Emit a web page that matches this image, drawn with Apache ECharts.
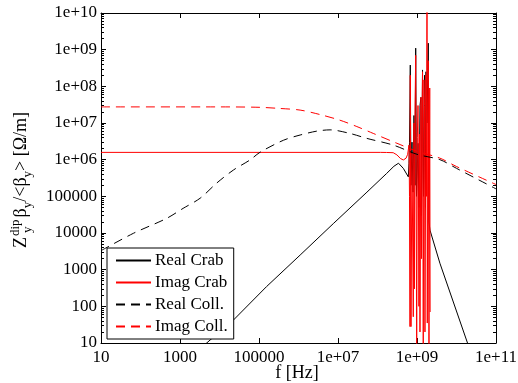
<!DOCTYPE html>
<html><head><meta charset="utf-8">
<script src="https://cdn.jsdelivr.net/npm/echarts@6/dist/echarts.min.js"></script>
<style>html,body{margin:0;padding:0;background:#fff}#c{width:518px;height:383px}</style>
</head><body><div id="c"></div>
<script>
// ---- data ----
const xTickLabels = ['10', '1000', '100000', '1e+07', '1e+09', '1e+11'];
const yTickLabels = ['10', '100', '1000', '10000', '100000', '1e+06', '1e+07', '1e+08', '1e+09', '1e+10'];
const seriesNames = ['Real Crab', 'Imag Crab', 'Real Coll.', 'Imag Coll.'];

const realCrabF = [3e3, 5.75e3, 2.24e4, 1.55e5, 1.1e6, 7.6e6, 5.4e7, 1.7e8, 2.6e8, 3.4e8, 4.5e8, 6.03e8, 6.27e8, 6.46e8, 6.76e8, 7.05e8, 7.47e8, 7.92e8, 8.39e8, 8.9e8, 9.27e8, 9.71e8, 1.06e9, 1.12e9, 1.19e9, 1.26e9, 1.30e9, 1.38e9, 1.46e9, 1.55e9, 1.64e9, 1.69e9, 1.79e9, 1.93e9, 2.01e9, 2.13e9, 3.8e9, 1.9e10, 4e10];
const realCrabV = [6.5, 12, 42, 345, 2.5e3, 1.8e4, 1.3e5, 4.2e5, 6.6e5, 8e5, 5.8e5, 3.4e5, 8e5, 3e6, 3.8e8, 2e5, 3e6, 1.3e5, 1.6e7, 2e5, 1.1e9, 1e5, 2.8e6, 5e4, 3e7, 5e7, 3e4, 2.8e8, 1e5, 2e8, 5e4, 2.5e8, 1e7, 1.5e9, 2e4, 1.2e4, 1.5e3, 10, 1];

const imagCrabF = [10, 1.2e8, 1.7e8, 2.5e8, 3.1e8, 3.8e8, 4.5e8, 5.3e8, 5.8e8, 6.27e8, 6.46e8, 6.65e8, 6.76e8, 7.05e8, 7.47e8, 8.05e8, 8.39e8, 8.6e8, 8.9e8, 9.27e8, 9.82e8, 1.02e9, 1.06e9, 1.12e9, 1.16e9, 1.19e9, 1.26e9, 1.30e9, 1.34e9, 1.38e9, 1.44e9, 1.50e9, 1.55e9, 1.59e9, 1.69e9, 1.75e9, 1.79e9, 1.82e9, 1.93e9, 2.01e9, 2.10e9, 2.15e9];
const imagCrabV = [1.58e6, 1.58e6, 1.57e6, 1.55e6, 1.35e6, 1.08e6, 9.8e5, 1.1e6, 1.4e6, 2.5e6, 1e5, 28, 2e8, 28, 1.5e6, 52, 1e7, 300, 2e7, 7e8, 5, 4e6, 3e7, 100, 5e6, 20, 5e7, 2e3, 1e7, 2.5e8, 4, 1.5e8, 3e7, 20, 2e8, 1e5, 2e10, 35, 5e8, 6, 9e7, 70];

const realCollF = [10, 66, 457, 1200, 3240, 8500, 2.24e4, 5.9e4, 1.07e5, 4.2e5, 1.1e6, 2.9e6, 6.3e6, 2e7, 5.4e7, 2.5e8, 1e9, 3.8e9, 1e10, 1e11];
const realCollV = [3300, 9800, 2.5e4, 4.7e4, 8.9e4, 2.3e5, 5.2e5, 9.8e5, 1.6e6, 3.4e6, 4.7e6, 6.0e6, 6.5e6, 5.2e6, 3.8e6, 2.5e6, 1.4e6, 1.0e6, 5.8e5, 1.6e5];

const imagCollF = [10, 1e4, 1e5, 3.2e5, 1.1e6, 3.5e6, 1.1e7, 3e7, 7.8e7, 3.1e8, 1e9, 3.8e9, 1e10, 1e11];
const imagCollV = [2.75e7, 2.75e7, 2.68e7, 2.5e7, 2.25e7, 1.7e7, 1.2e7, 8e6, 5.2e6, 2.8e6, 1.7e6, 1.1e6, 6.5e5, 2.1e5];

// ---- chart ----
const FONT = 'Liberation Serif';
const RED = '#ff0000', BLACK = '#000000', DASH = [9, 6];
const pair = (f, v) => f.map((x, i) => [x, v[i]]);
const chart = echarts.init(document.getElementById('c'), null, {renderer: 'canvas'});

function xLabel(v) { const i = Math.round((Math.log10(v) - 1) / 2); return xTickLabels[i] !== undefined ? xTickLabels[i] : ''; }
function yLabel(v) { const i = Math.round(Math.log10(v) - 1); return yTickLabels[i] !== undefined ? yTickLabels[i] : ''; }

const axLine = {show: true, lineStyle: {color: '#000', width: 1}};
const xBase = {type: 'log', logBase: 10, min: 10, max: 1e11, interval: 2,
  axisLine: axLine, axisTick: {show: true, inside: true, length: 5, lineStyle: {color: '#000'}},
  splitLine: {show: false}, minorTick: {show: false}};
const yBase = {type: 'log', logBase: 10, min: 10, max: 1e10, interval: 1,
  axisLine: axLine, axisTick: {show: true, inside: true, length: 5, lineStyle: {color: '#000'}},
  minorTick: {show: true, splitNumber: 9, length: 3, lineStyle: {color: '#000'}},
  splitLine: {show: false}, minorSplitLine: {show: false}};

// y-axis title layout (measured with canvas)
const mctx = document.createElement('canvas').getContext('2d');
function w(t, s) { mctx.font = s + 'px "' + FONT + '"'; return mctx.measureText(t).width; }
const titleEls = [];
function addT(t, x, dy, s) {
  titleEls.push({type: 'text', x: x, y: dy, style: {text: t, font: s + 'px "' + FONT + '"', fill: '#000', textAlign: 'left', textVerticalAlign: 'middle'}});
}
(function buildTitle() {
  const M = 18, S = 13;
  let x = 0;
  addT('Z', x, 0, M); x += w('Z', M) + 1;
  addT('dip', x, -6.5, S);
  addT('y', x + 3, 6, S);
  x += w('dip', S) + 2;
  addT('β', x, 0, M); x += w('β', M);
  addT('y', x, 6, S); x += w('y', S);
  addT('/<β', x, 0, M); x += w('/<β', M);
  addT('y', x, 6, S); x += w('y', S);
  addT('> [Ω/m]', x, 0, M);
})();

const lineCommon = {type: 'line', showSymbol: false, symbol: 'none', clip: true, animation: false};

chart.setOption({
  animation: false,
  backgroundColor: '#fff',
  textStyle: {fontFamily: FONT},
  grid: {left: 101, right: 22, top: 13, bottom: 40, containLabel: false, outerBoundsMode: 'none'},
  xAxis: [
    Object.assign({}, xBase, {position: 'bottom',
      axisLabel: {show: true, formatter: xLabel, color: '#000', fontSize: 17, fontFamily: FONT, margin: 6}}),
    Object.assign({}, xBase, {position: 'top', axisLabel: {show: false}})
  ],
  yAxis: [
    Object.assign({}, yBase, {position: 'left',
      axisLabel: {show: true, formatter: yLabel, color: '#000', fontSize: 17, fontFamily: FONT, margin: 4}}),
    Object.assign({}, yBase, {position: 'right', axisLabel: {show: false}})
  ],
  legend: {
    show: true, left: 107, top: 248, orient: 'vertical',
    data: seriesNames,
    itemWidth: 35, itemHeight: 14, itemGap: 5,
    padding: [4, 6, 4, 8],
    itemStyle: {opacity: 0},
    backgroundColor: '#fff', borderColor: '#000', borderWidth: 1, borderRadius: 0,
    textStyle: {color: '#000', fontSize: 17, fontFamily: FONT, padding: [0, 0, 0, -1]}
  },
  graphic: [
    {type: 'group', x: 21.6, y: 248, rotation: Math.PI / 2, children: titleEls},
    {type: 'text', x: 297, y: 364, style: {text: 'f [Hz]', font: '18px "' + FONT + '"', fill: '#000', textAlign: 'center', textVerticalAlign: 'top'}}
  ],
  series: [
    Object.assign({}, lineCommon, {name: seriesNames[0], data: pair(realCrabF, realCrabV),
      lineStyle: {color: BLACK, width: 1, type: 'solid'}, itemStyle: {color: BLACK}, z: 2}),
    Object.assign({}, lineCommon, {name: seriesNames[1], data: pair(imagCrabF, imagCrabV),
      lineStyle: {color: RED, width: 1, type: 'solid'}, itemStyle: {color: RED}, z: 3}),
    Object.assign({}, lineCommon, {name: seriesNames[2], data: pair(realCollF, realCollV), smooth: 0.3,
      lineStyle: {color: BLACK, width: 1, type: DASH}, itemStyle: {color: BLACK}, z: 4}),
    Object.assign({}, lineCommon, {name: seriesNames[3], data: pair(imagCollF, imagCollV), smooth: 0.3,
      lineStyle: {color: RED, width: 1, type: DASH}, itemStyle: {color: RED}, z: 5})
  ]
});
</script></body></html>
